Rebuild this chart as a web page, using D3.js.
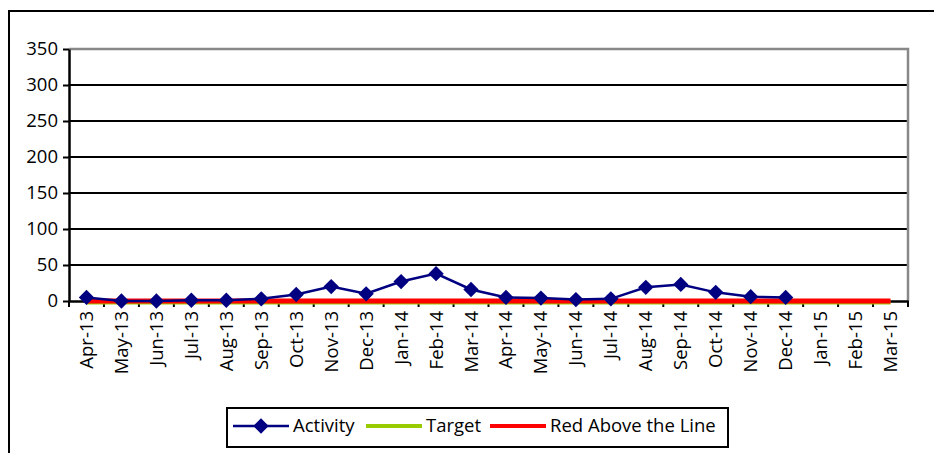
<!DOCTYPE html>
<html>
<head>
<meta charset="utf-8">
<script src="https://cdn.jsdelivr.net/npm/d3@7"></script>
<style>
  body { margin: 0; background: #fff; }
  text { font-family: "Open Sans", "Noto Sans", sans-serif; fill: #000; }
</style>
</head>
<body>
<svg id="chart" width="934" height="453"></svg>
<script>
// months on the x axis
let months = ["Apr-13", "May-13", "Jun-13", "Jul-13", "Aug-13", "Sep-13", "Oct-13", "Nov-13",
              "Dec-13", "Jan-14", "Feb-14", "Mar-14", "Apr-14", "May-14", "Jun-14", "Jul-14",
              "Aug-14", "Sep-14", "Oct-14", "Nov-14", "Dec-14", "Jan-15", "Feb-15", "Mar-15"];

// activity stops at Dec-14
let activity = [5, 0, 0, 1, 1, 3, 9, 20, 10, 27, 38, 16, 5, 4, 2, 3, 19, 23, 12, 6, 5];
let target = months.map(() => 0);
let redLine = months.map(() => 0);

let yTicks = [0, 50, 100, 150, 200, 250, 300, 350];

let margin = {left: 69, top: 49, right: 26, bottom: 152},
    width = 934 - margin.left - margin.right,
    height = 453 - margin.top - margin.bottom;

let fontSize = "18.5px";

let svg = d3.select("#chart");

// outer chart border
svg.append("rect")
  .attr("x", 9).attr("y", 11)
  .attr("width", 940).attr("height", 460)
  .attr("fill", "none")
  .attr("stroke", "#000")
  .attr("stroke-width", 2);

let g = svg.append("g")
  .attr("transform", "translate(" + margin.left + "," + margin.top + ")");

let x = d3.scaleBand().domain(months).range([0, width]);
let y = d3.scaleLinear().domain([0, 350]).range([height, 0]);

// grid lines
g.selectAll(".grid")
  .data(yTicks.filter(d => d > 0 && d < 350))
.enter().append("line")
  .attr("class", "grid")
  .attr("x1", 0).attr("x2", width)
  .attr("y1", d => y(d)).attr("y2", d => y(d))
  .attr("stroke", "#000")
  .attr("stroke-width", 2);

// plot area border (top and right, gray)
g.append("path")
  .attr("d", "M0," + y(350) + "H" + width + "V" + height)
  .attr("fill", "none")
  .attr("stroke", "#888")
  .attr("stroke-width", 2.5);

// y axis
let yAxis = g.append("g")
  .call(d3.axisLeft(y).tickValues(yTicks).tickSize(6).tickPadding(5).tickSizeOuter(0));
yAxis.select(".domain").attr("stroke-width", 2.5);
yAxis.selectAll(".tick line").attr("stroke-width", 2);
yAxis.selectAll("text").style("font-size", fontSize).attr("font-family", null);

// x axis with ticks on band edges
let xAxis = g.append("g")
  .attr("transform", "translate(0," + height + ")")
  .call(d3.axisBottom(x).tickSize(0).tickPadding(0).tickSizeOuter(0));
xAxis.select(".domain").attr("stroke-width", 2.5);
xAxis.selectAll(".tick text")
  .style("font-size", fontSize)
  .attr("font-family", null)
  .attr("transform", "rotate(-90)")
  .attr("text-anchor", "end")
  .attr("x", -10)
  .attr("y", 0)
  .attr("dy", "0.35em");

let edges = d3.range(months.length + 1).map(i => i * x.bandwidth());
g.selectAll(".xtick")
  .data(edges)
.enter().append("line")
  .attr("class", "xtick")
  .attr("x1", d => d).attr("x2", d => d)
  .attr("y1", height).attr("y2", height + 6)
  .attr("stroke", "#000")
  .attr("stroke-width", 2);

let cx = d => x(d) + x.bandwidth() / 2;

let lineOf = vals => d3.line()
  .x((d, i) => cx(months[i]))
  .y(d => y(d))(vals);

g.append("path")
  .attr("d", lineOf(target))
  .attr("fill", "none")
  .attr("stroke", "#99cc00")
  .attr("stroke-width", 4)
  .attr("transform", "translate(0,1.5)");

g.append("path")
  .attr("d", lineOf(redLine))
  .attr("fill", "none")
  .attr("stroke", "#ff0000")
  .attr("stroke-width", 5);

g.append("path")
  .attr("d", lineOf(activity))
  .attr("fill", "none")
  .attr("stroke", "#000080")
  .attr("stroke-width", 2.5);

let diamond = d3.symbol().type(d3.symbolDiamond2).size(150);

g.selectAll(".pt")
  .data(activity)
.enter().append("path")
  .attr("class", "pt")
  .attr("d", diamond)
  .attr("transform", (d, i) => "translate(" + cx(months[i]) + "," + y(d) + ")")
  .attr("fill", "#000080");

// legend
let legend = svg.append("g");
legend.append("rect")
  .attr("x", 227).attr("y", 408)
  .attr("width", 501).attr("height", 39)
  .attr("fill", "#fff")
  .attr("stroke", "#000")
  .attr("stroke-width", 2);

let items = [
  {name: "Activity", color: "#000080", w: 2.5, x0: 233, marker: true},
  {name: "Target", color: "#99cc00", w: 4, x0: 366},
  {name: "Red Above the Line", color: "#ff0000", w: 4, x0: 490}
];
let ly = 426;
items.forEach(it => {
  legend.append("line")
    .attr("x1", it.x0).attr("x2", it.x0 + 56)
    .attr("y1", ly).attr("y2", ly)
    .attr("stroke", it.color)
    .attr("stroke-width", it.w);
  if (it.marker) {
    legend.append("path")
      .attr("d", diamond)
      .attr("transform", "translate(" + (it.x0 + 28) + "," + ly + ")")
      .attr("fill", it.color);
  }
  legend.append("text")
    .attr("x", it.x0 + 60)
    .attr("y", ly)
    .attr("dy", "0.35em")
    .style("font-size", fontSize)
    .text(it.name);
});
</script>
</body>
</html>
